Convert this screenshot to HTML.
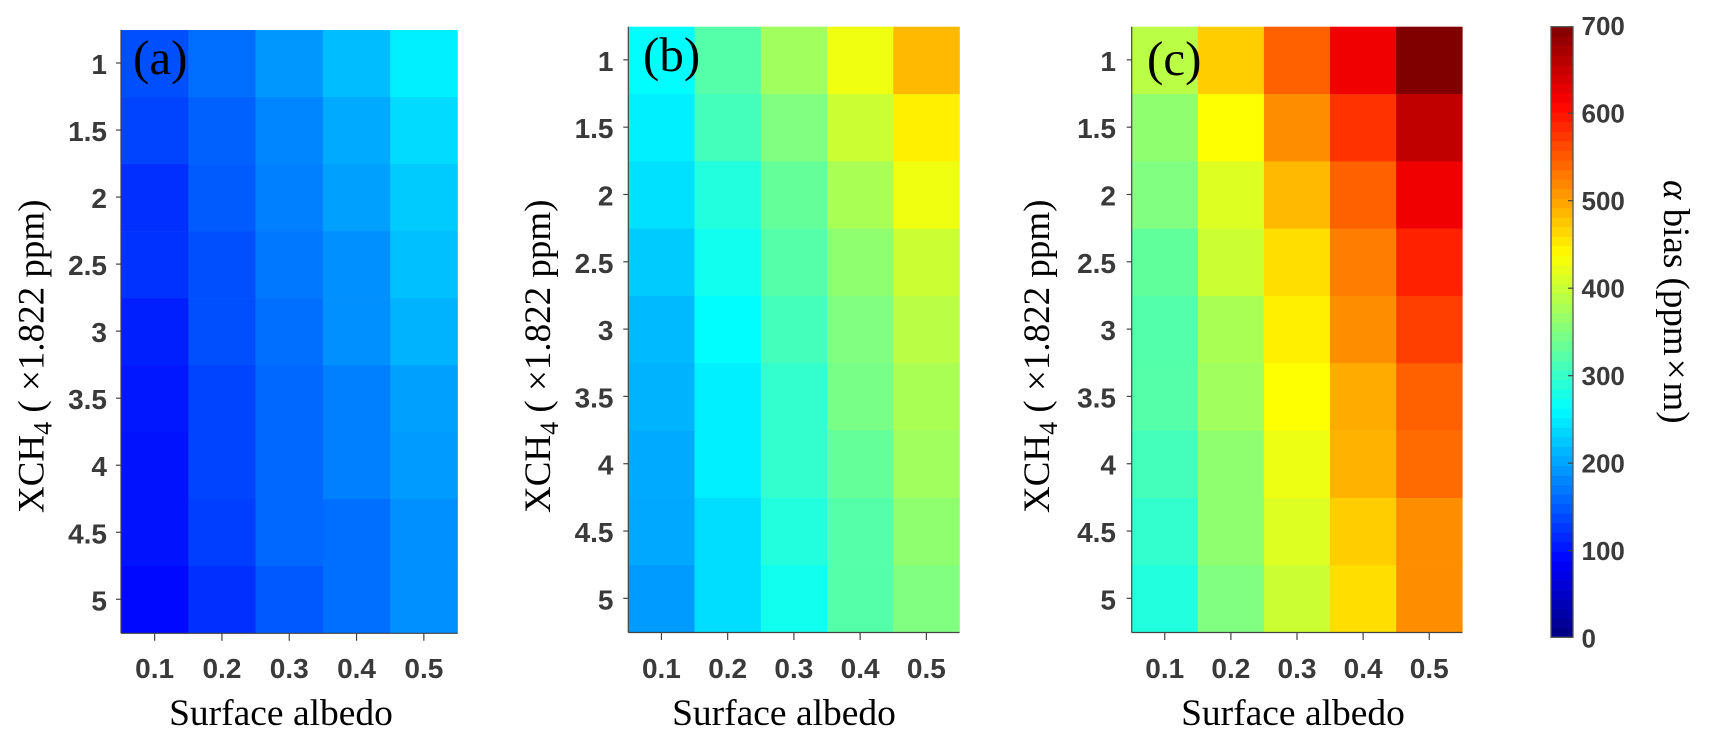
<!DOCTYPE html>
<html lang="en">
<head>
<meta charset="utf-8">
<title>Alpha bias heatmaps</title>
<style>
html,body{margin:0;padding:0;background:#fff;width:1711px;height:744px;overflow:hidden}
svg{display:block}
.serif{font-family:"Liberation Serif","Times New Roman",serif;fill:#000}
.tick{font-family:"Liberation Sans",Arial,sans-serif;font-weight:700;font-size:26px;fill:#3a3a3a;filter:blur(0.35px)}
.panel-tick{font-size:28px}
</style>
</head>
<body>
<svg id="chart" xmlns="http://www.w3.org/2000/svg" width="1711" height="744" viewBox="0 0 1711 744">
  <rect width="1711" height="744" fill="#fff"/>
  <g id="panels"></g>
  <g id="colorbar"></g>

  <text class="serif" x="133" y="74" font-size="49">(a)</text>
  <text class="serif" x="643" y="71" font-size="49">(b)</text>
  <text class="serif" x="1147" y="75" font-size="49">(c)</text>

  <text class="serif" x="281" y="725" font-size="37.5" text-anchor="middle">Surface albedo</text>
  <text class="serif" x="784" y="725" font-size="37.5" text-anchor="middle">Surface albedo</text>
  <text class="serif" x="1293" y="725" font-size="37.5" text-anchor="middle">Surface albedo</text>

  <text class="serif" transform="translate(43.6,513) rotate(-90)" font-size="37">XCH<tspan dy="8" font-size="26">4</tspan><tspan dy="-8"> ( ×1.822 ppm)</tspan></text>
  <text class="serif" transform="translate(550,513) rotate(-90)" font-size="37">XCH<tspan dy="8" font-size="26">4</tspan><tspan dy="-8"> ( ×1.822 ppm)</tspan></text>
  <text class="serif" transform="translate(1049,513) rotate(-90)" font-size="37">XCH<tspan dy="8" font-size="26">4</tspan><tspan dy="-8"> ( ×1.822 ppm)</tspan></text>

  <text class="serif" transform="translate(1664,180) rotate(90)" font-size="37"><tspan font-style="italic">α</tspan> bias (ppm<tspan dx="3">×</tspan><tspan dx="3">m)</tspan></text>
</svg>
<script>
var albedoValues = [0.1, 0.2, 0.3, 0.4, 0.5];
var xch4Values = [1, 1.5, 2, 2.5, 3, 3.5, 4, 4.5, 5];
var xTickLabels = ['0.1', '0.2', '0.3', '0.4', '0.5'];
var yTickLabels = ['1', '1.5', '2', '2.5', '3', '3.5', '4', '4.5', '5'];
var colorbarTicks = [0, 100, 200, 300, 400, 500, 600, 700];

var panelAValues = [
  [142, 164, 192, 217, 252],
  [134, 154, 180, 205, 238],
  [120, 150, 175, 197, 227],
  [122, 142, 170, 186, 219],
  [109, 142, 164, 186, 210],
  [103, 134, 159, 175, 197],
  [100, 134, 159, 175, 194],
  [100, 130, 159, 164, 186],
  [93, 120, 148, 164, 186]
];
var panelBValues = [
  [262, 321, 373, 427, 485],
  [252, 309, 350, 402, 448],
  [241, 285, 332, 379, 427],
  [227, 274, 321, 361, 402],
  [215, 262, 309, 350, 390],
  [210, 252, 297, 344, 379],
  [205, 252, 297, 332, 373],
  [203, 240, 285, 321, 361],
  [194, 240, 274, 321, 350]
];
var panelCValues = [
  [390, 472, 546, 623, 700],
  [361, 437, 516, 578, 656],
  [350, 414, 485, 546, 623],
  [330, 402, 460, 527, 590],
  [320, 379, 448, 516, 569],
  [321, 373, 437, 495, 546],
  [309, 361, 425, 490, 539],
  [297, 361, 414, 472, 516],
  [285, 350, 402, 460, 516]
];

var SVGNS = 'http://www.w3.org/2000/svg';
var colorMin = 0, colorMax = 700, colorLevels = 64;

function clamp01(v) { return Math.max(0, Math.min(1, v)); }
function jet(t) {
  var r = clamp01(1.5 - Math.abs(4 * t - 3));
  var g = clamp01(1.5 - Math.abs(4 * t - 2));
  var b = clamp01(1.5 - Math.abs(4 * t - 1));
  return 'rgb(' + Math.round(r * 255) + ',' + Math.round(g * 255) + ',' + Math.round(b * 255) + ')';
}
function valueColor(v) { return jet((v - colorMin) / (colorMax - colorMin)); }
function make(tag, parent) {
  var el = document.createElementNS(SVGNS, tag);
  parent.appendChild(el);
  return el;
}

function drawPanel(parent, id, values, left, right, top, bottom, tickRight) {
  var g = make('g', parent);
  
  

  var albedoStep = albedoValues[1] - albedoValues[0];
  var xchStep = xch4Values[1] - xch4Values[0];
  var x0 = albedoValues[0] - albedoStep / 2, x1 = albedoValues[albedoValues.length - 1] + albedoStep / 2;
  var y0 = xch4Values[0] - xchStep / 2, y1 = xch4Values[xch4Values.length - 1] + xchStep / 2;
  function xScale(a) { return left + (a - x0) / (x1 - x0) * (right - left); }
  function yScale(c) { return top + (c - y0) / (y1 - y0) * (bottom - top); }

  values.forEach(function (row, r) {
    row.forEach(function (v, c) {
      var a = albedoValues[c], m = xch4Values[r];
      var xa = xScale(a - albedoStep / 2), xb = xScale(a + albedoStep / 2);
      var ya = yScale(m - xchStep / 2), yb = yScale(m + xchStep / 2);
      var cell = make('rect', g);
      
      
      cell.setAttribute('x', xa);
      cell.setAttribute('y', ya);
      cell.setAttribute('width', xb - xa + 0.3);
      cell.setAttribute('height', yb - ya + 0.3);
      cell.setAttribute('fill', valueColor(v));
    });
  });

  var leftAxis = make('line', g);
  
  
  leftAxis.setAttribute('x1', left);
  leftAxis.setAttribute('x2', left);
  leftAxis.setAttribute('y1', top);
  leftAxis.setAttribute('y2', bottom);
  leftAxis.setAttribute('stroke', '#444');
  leftAxis.setAttribute('stroke-width', '1.2');

  var bottomAxis = make('line', g);
  
  
  bottomAxis.setAttribute('x1', left);
  bottomAxis.setAttribute('x2', right);
  bottomAxis.setAttribute('y1', bottom);
  bottomAxis.setAttribute('y2', bottom);
  bottomAxis.setAttribute('stroke', '#444');
  bottomAxis.setAttribute('stroke-width', '1.2');

  xch4Values.forEach(function (m, i) {
    var y = yScale(m) - 0.5;
    var tick = make('line', g);
    
    
    tick.setAttribute('x1', left - 5);
    tick.setAttribute('x2', left);
    tick.setAttribute('y1', y);
    tick.setAttribute('y2', y);
    tick.setAttribute('stroke', '#444');
    tick.setAttribute('stroke-width', '1.2');
    var label = make('text', g);
    
    
    label.setAttribute('class', 'tick panel-tick');
    label.setAttribute('x', tickRight);
    label.setAttribute('y', y + 11);
    label.setAttribute('text-anchor', 'end');
    label.textContent = yTickLabels[i];
  });

  albedoValues.forEach(function (a, i) {
    var x = xScale(a);
    var tick = make('line', g);
    
    
    tick.setAttribute('x1', x);
    tick.setAttribute('x2', x);
    tick.setAttribute('y1', bottom);
    tick.setAttribute('y2', bottom + 7.5);
    tick.setAttribute('stroke', '#444');
    tick.setAttribute('stroke-width', '1.2');
    var label = make('text', g);
    
    
    label.setAttribute('class', 'tick panel-tick');
    label.setAttribute('x', x);
    label.setAttribute('y', 678);
    label.setAttribute('text-anchor', 'middle');
    label.textContent = xTickLabels[i];
  });
}

function drawColorbar(parent, left, right, top, bottom, tickZero, tickMax) {
  function cScale(v) { return tickZero + (v - colorMin) / (colorMax - colorMin) * (tickMax - tickZero); }
  var bandH = (bottom - top) / colorLevels;
  for (var i = 0; i < colorLevels; i++) {
    var band = make('rect', parent);
    
    
    band.setAttribute('x', left);
    band.setAttribute('y', bottom - (i + 1) * bandH);
    band.setAttribute('width', right - left);
    band.setAttribute('height', bandH + 0.3);
    band.setAttribute('fill', jet((i + 0.5) / colorLevels));
  }
  var frame = make('rect', parent);
  
  
  frame.setAttribute('x', left);
  frame.setAttribute('y', top);
  frame.setAttribute('width', right - left);
  frame.setAttribute('height', bottom - top);
  frame.setAttribute('fill', 'none');
  frame.setAttribute('stroke', '#555');
  frame.setAttribute('stroke-width', '1.3');

  colorbarTicks.forEach(function (v) {
    var y = cScale(v);
    if (v > colorMin && v < colorMax) {
      var tick = make('line', parent);
      
      
      tick.setAttribute('x1', right - 5);
      tick.setAttribute('x2', right);
      tick.setAttribute('y1', y);
      tick.setAttribute('y2', y);
      tick.setAttribute('stroke', '#444');
      tick.setAttribute('stroke-width', '1.2');
    }
    var label = make('text', parent);
    
    
    label.setAttribute('class', 'tick');
    label.setAttribute('x', 1581.5);
    label.setAttribute('y', y + 9.5);
    label.textContent = String(v);
  });
}

var panelsGroup = document.getElementById('panels');
drawPanel(panelsGroup, 'a', panelAValues, 121, 457.5, 30, 633.3, 107);
drawPanel(panelsGroup, 'b', panelBValues, 628.3, 959.5, 26.7, 632.5, 613.5);
drawPanel(panelsGroup, 'c', panelCValues, 1131.7, 1462.3, 26.7, 632.5, 1116);
drawColorbar(document.getElementById('colorbar'), 1551, 1573, 26.7, 637.3, 638.2, 25.7);
</script>
</body>
</html>
